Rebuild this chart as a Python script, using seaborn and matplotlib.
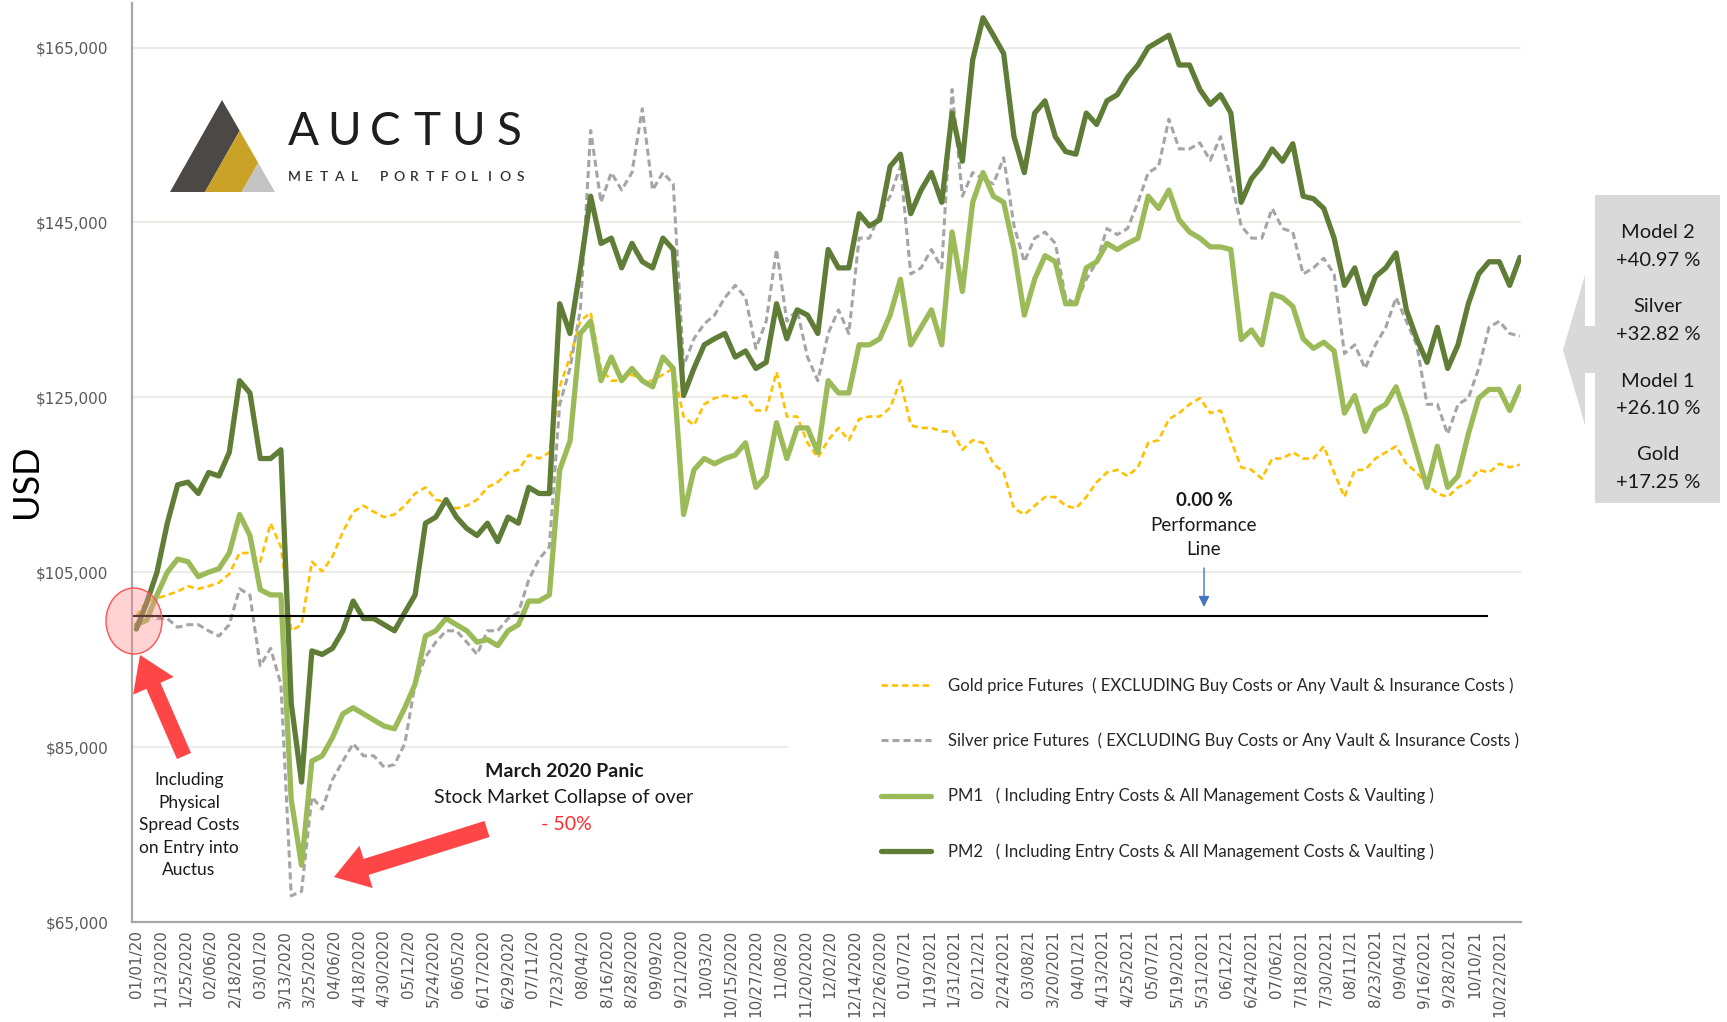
import numpy as np
import pandas as pd
import matplotlib
matplotlib.use("Agg")
import matplotlib.pyplot as plt
import seaborn as sns
from matplotlib.patches import Polygon, Rectangle, Ellipse
from matplotlib.lines import Line2D
import matplotlib.ticker as mticker

# ---------------- data (USD thousands, one sample every 5 days from 2020-01-01) -------------
start_date = "2020-01-01"
step_days = 5

gold_k = [
    100.0, 101.7, 102.0, 102.4, 102.8, 103.4, 103.1, 103.4, 103.8, 104.8,
    107.2, 107.2, 106.2, 110.6, 107.9, 98.3, 99.0, 106.2, 105.1, 106.8,
    109.6, 111.9, 112.6, 111.9, 111.3, 111.6, 112.6, 114.0, 114.7, 113.3,
    113.0, 112.3, 112.6, 113.3, 114.7, 115.3, 116.4, 116.7, 118.4, 118.0,
    118.7, 126.2, 129.6, 133.7, 134.7, 128.3, 126.9, 126.9, 127.6, 126.9,
    126.9, 127.6, 128.3, 122.8, 121.8, 124.2, 124.9, 125.2, 124.9, 125.2,
    123.5, 123.5, 127.9, 122.8, 122.8, 119.8, 118.1, 120.1, 121.5, 120.1,
    122.5, 122.8, 122.8, 123.8, 126.9, 121.8, 121.5, 121.5, 121.1, 121.1,
    119.0, 120.1, 119.8, 117.4, 116.4, 112.3, 111.6, 112.6, 113.6, 113.6,
    112.6, 112.3, 113.6, 115.3, 116.4, 116.7, 116.0, 117.0, 119.8, 120.1,
    122.5, 123.2, 124.2, 124.9, 123.2, 123.5, 120.1, 117.0, 116.7, 115.7,
    118.0, 118.0, 118.7, 118.0, 118.0, 119.4, 116.4, 113.6, 116.7, 116.7,
    118.0, 118.7, 119.4, 117.4, 116.4, 115.0, 114.0, 113.6, 114.7, 115.3,
    116.7, 116.4, 117.4, 117.0, 117.3]

silver_k = [
    100.0, 100.3, 99.7, 99.7, 98.7, 99.0, 99.0, 98.3, 97.7, 99.0,
    103.1, 102.4, 94.3, 96.3, 92.2, 68.0, 68.5, 79.3, 77.9, 81.3,
    83.4, 85.4, 84.0, 84.0, 82.7, 83.0, 85.4, 92.2, 95.3, 97.0,
    98.3, 98.3, 97.0, 95.6, 98.3, 98.3, 99.7, 100.4, 104.1, 106.5,
    107.9, 124.2, 128.3, 135.0, 155.5, 147.3, 150.7, 148.7, 150.7, 158.0,
    148.7, 150.7, 149.4, 128.6, 131.7, 133.4, 134.4, 136.4, 137.8, 136.4,
    130.6, 133.7, 141.9, 133.7, 135.0, 129.6, 126.9, 132.3, 135.0, 132.3,
    143.2, 143.2, 146.0, 148.0, 151.4, 139.1, 139.8, 141.9, 139.8, 160.2,
    148.0, 150.7, 150.0, 149.4, 152.4, 144.6, 140.5, 143.2, 143.9, 142.6,
    136.4, 135.7, 138.5, 140.5, 144.3, 143.6, 144.3, 147.3, 150.7, 151.4,
    156.8, 153.4, 153.4, 154.1, 152.1, 154.8, 150.0, 144.6, 143.2, 143.2,
    146.6, 144.3, 143.9, 139.1, 139.8, 140.9, 139.1, 130.0, 131.0, 128.3,
    131.0, 133.0, 136.4, 133.7, 131.0, 124.2, 124.2, 120.8, 124.2, 124.9,
    128.3, 133.0, 133.7, 132.3, 132.0]

pm1_k = [
    99.0, 99.5, 102.4, 105.0, 106.5, 106.2, 104.5, 105.0, 105.4, 107.2,
    111.6, 109.2, 103.0, 102.4, 102.4, 79.0, 71.5, 83.4, 84.0, 86.1,
    88.8, 89.5, 88.8, 88.1, 87.4, 87.1, 89.5, 92.2, 97.7, 98.3,
    99.7, 99.0, 98.3, 97.0, 97.3, 96.6, 98.3, 99.0, 101.7, 101.7,
    102.4, 116.7, 120.0, 132.3, 133.7, 126.9, 129.6, 126.9, 128.3, 126.9,
    126.2, 129.6, 128.3, 111.6, 116.7, 118.0, 117.4, 118.0, 118.4, 119.8,
    114.7, 116.0, 122.1, 118.0, 121.5, 121.5, 118.7, 126.9, 125.5, 125.5,
    131.0, 131.0, 131.7, 134.4, 138.5, 131.0, 133.0, 135.0, 131.0, 143.9,
    137.1, 147.3, 150.7, 148.0, 147.3, 141.9, 134.4, 138.5, 141.2, 140.5,
    135.7, 135.7, 139.8, 140.5, 142.6, 141.9, 142.6, 143.2, 148.0, 146.6,
    148.7, 145.3, 143.9, 143.2, 142.2, 142.2, 141.9, 131.6, 132.7, 131.0,
    136.8, 136.4, 135.4, 131.7, 130.6, 131.3, 130.3, 123.2, 125.2, 121.1,
    123.5, 124.2, 126.2, 122.8, 118.7, 114.7, 119.4, 114.7, 116.0, 120.8,
    124.9, 125.9, 125.9, 123.5, 126.2]

pm2_k = [
    98.5, 101.5, 105.0, 110.6, 115.0, 115.3, 114.0, 116.4, 116.0, 118.7,
    126.9, 125.5, 118.0, 118.0, 119.0, 90.0, 81.0, 96.0, 95.6, 96.3,
    98.3, 101.7, 99.7, 99.7, 99.0, 98.3, 100.4, 102.4, 110.6, 111.3,
    113.3, 111.3, 110.0, 109.2, 110.6, 108.5, 111.3, 110.6, 114.7, 114.0,
    114.0, 135.7, 132.3, 139.8, 148.0, 142.6, 143.2, 139.8, 142.6, 140.5,
    139.8, 143.2, 141.9, 125.2, 128.3, 131.0, 131.7, 132.3, 129.6, 130.3,
    128.3, 129.0, 135.7, 131.7, 135.0, 134.4, 132.3, 141.9, 139.8, 139.8,
    146.0, 144.6, 145.3, 151.4, 152.8, 146.0, 148.7, 150.7, 147.3, 157.5,
    152.0, 163.6, 168.4, 166.4, 164.3, 154.8, 150.7, 157.5, 158.9, 154.8,
    153.1, 152.8, 157.5, 156.2, 158.9, 159.6, 161.6, 163.0, 165.0, 165.7,
    166.4, 163.0, 163.0, 160.2, 158.5, 159.6, 157.5, 147.3, 150.0, 151.4,
    153.4, 152.0, 154.0, 148.0, 147.7, 146.6, 143.2, 137.8, 139.8, 135.7,
    138.8, 139.8, 141.5, 135.0, 131.7, 129.0, 133.0, 128.3, 131.0, 135.7,
    139.1, 140.5, 140.5, 137.8, 141.0]

baseline_usd = 100000

tick_labels = [
    "01/01/20", "1/13/2020", "1/25/2020", "02/06/20", "2/18/2020", "03/01/20",
    "3/13/2020", "3/25/2020", "04/06/20", "4/18/2020", "4/30/2020", "05/12/20",
    "5/24/2020", "06/05/20", "6/17/2020", "6/29/2020", "07/11/20", "7/23/2020",
    "08/04/20", "8/16/2020", "8/28/2020", "09/09/20", "9/21/2020", "10/03/20",
    "10/15/2020", "10/27/2020", "11/08/20", "11/20/2020", "12/02/20", "12/14/2020",
    "12/26/2020", "01/07/21", "1/19/2021", "1/31/2021", "02/12/21", "2/24/2021",
    "03/08/21", "3/20/2021", "04/01/21", "4/13/2021", "4/25/2021", "05/07/21",
    "5/19/2021", "5/31/2021", "06/12/21", "6/24/2021", "07/06/21", "7/18/2021",
    "7/30/2021", "08/11/21", "8/23/2021", "09/04/21", "9/16/2021", "9/28/2021",
    "10/10/21", "10/22/2021"]
tick_step_days = 12

y_ticks = [65000, 85000, 105000, 125000, 145000, 165000]

series_labels = [
    "Gold price Futures  ( EXCLUDING Buy Costs or Any Vault & Insurance Costs )",
    "Silver price Futures  ( EXCLUDING Buy Costs or Any Vault & Insurance Costs )",
    "PM1   ( Including Entry Costs & All Management Costs & Vaulting )",
    "PM2   ( Including Entry Costs & All Management Costs & Vaulting )",
]
box_names = ["Model 2", "Silver", "Model 1", "Gold"]
box_pcts = ["+40.97 %", "+32.82 %", "+26.10 %", "+17.25 %"]

# ---------------- style -------------
W, H = 1727, 1022
sns.set_style("white")
plt.rcParams["font.family"] = ["DejaVu Sans"]
CAL = ["Lato", "DejaVu Sans"]

c_gold = "#ffc000"
c_silver = "#a5a5a5"
c_pm1 = "#9bbb59"
c_pm2 = "#5f7d37"
tick_col = "#595959"

fig = plt.figure(figsize=(W / 100, H / 100), dpi=100)
ax = fig.add_axes([132 / W, 1 - 922 / H, (1521 - 132) / W, (922 - 3) / H])

t0 = pd.Timestamp(start_date)


def dates_for(vals):
    return pd.date_range(t0, periods=len(vals), freq=f"{step_days}D")


specs = [
    (gold_k, c_gold, 1.9, (0, (2.4, 1.5)), 3),
    (silver_k, c_silver, 2.2, (0, (2.3, 1.3)), 3),
    (pm1_k, c_pm1, 3.8, "-", 4),
    (pm2_k, c_pm2, 3.8, "-", 5),
]
for vals, col, lw, ls, z in specs:
    sns.lineplot(x=dates_for(vals), y=np.asarray(vals) * 1000, ax=ax, color=col,
                 linewidth=lw, linestyle=ls, legend=False, zorder=z,
                 solid_joinstyle="round", solid_capstyle="round")

# performance line
ax.hlines(baseline_usd, t0 - pd.Timedelta(days=1.5), t0 + pd.Timedelta(days=654.5),
          color="black", lw=1.5, zorder=6)

# axes
ax.set_xlim(t0 - pd.Timedelta(days=2.1), t0 + pd.Timedelta(days=670.5))
ax.set_ylim(65000, 170090)
ax.set_xticks(pd.date_range(t0, periods=len(tick_labels), freq=f"{tick_step_days}D"))
ax.set_xticklabels(tick_labels, rotation=90)
ax.set_xticks(pd.date_range(t0, periods=671, freq="D"), minor=True)
ax.set_yticks(y_ticks)
ax.yaxis.set_major_formatter(mticker.FuncFormatter(lambda v, p: f"${v:,.0f}"))
ax.set_xlabel("")
ax.set_ylabel("")
ax.yaxis.grid(True, color="#e9e9e2", lw=1.2)
ax.xaxis.grid(False)
ax.set_axisbelow(True)
for s in ["top", "right"]:
    ax.spines[s].set_visible(False)
for s in ["left", "bottom"]:
    ax.spines[s].set_color("#a6a6a6")
    ax.spines[s].set_linewidth(1.6)
ax.tick_params(axis="x", which="both", length=7, width=0.7, color="#a0a0a0",
               direction="inout", labelsize=11, labelcolor=tick_col, pad=2)
ax.tick_params(axis="y", which="major", length=5, width=1, color="#a6a6a6",
               direction="out", labelsize=11, labelcolor=tick_col, pad=12)

# white area behind legend (hides grid line)
ax.add_patch(Rectangle((788 / W, 1 - 905 / H), (1521 - 788) / W, (905 - 640) / H,
                       transform=fig.transFigure, facecolor="white", edgecolor="none",
                       zorder=1.5, clip_on=False))

# legend
handles = [Line2D([], [], color=c, lw=lw, linestyle=ls) for _, c, lw, ls, _ in specs]
leg = ax.legend(handles, series_labels, loc="upper left",
                bbox_to_anchor=(881 / W, 1 - 677 / H), bbox_transform=fig.transFigure,
                frameon=False, prop={"family": CAL, "size": 12}, handlelength=3.0,
                handletextpad=1.05, labelspacing=2.33, borderpad=0, borderaxespad=0)
for t in leg.get_texts():
    t.set_color("#262626")
leg.set_zorder(10)

# y label
fig.text(26 / W, 1 - 481 / H, "USD", rotation=90, ha="center", va="center",
         family=CAL, fontsize=26, color="black")


def fx(x):
    return x / W


def fy(y):
    return 1 - y / H


# annotations
fig.text(fx(1204), fy(500), "0.00 %", ha="center", va="center", family=CAL,
         fontsize=13.5, fontweight="bold", color="#1a1a1a")
fig.text(fx(1204), fy(525), "Performance", ha="center", va="center", family=CAL,
         fontsize=13.5, color="#1a1a1a")
fig.text(fx(1204), fy(549), "Line", ha="center", va="center", family=CAL,
         fontsize=13.5, color="#1a1a1a")
ax.annotate("", xy=(1204, H - 607), xytext=(1204, H - 568), xycoords="figure pixels",
            textcoords="figure pixels",
            arrowprops=dict(arrowstyle="-|>", color="#4472c4", lw=1.0,
                            mutation_scale=16, shrinkA=0, shrinkB=0))

fig.text(fx(564), fy(771), "March 2020 Panic", ha="center", va="center", family=CAL,
         fontsize=14, fontweight="bold", color="#1a1a1a")
fig.text(fx(564), fy(797), "Stock Market Collapse of over", ha="center", va="center",
         family=CAL, fontsize=14, color="#1a1a1a")
fig.text(fx(566), fy(824), "- 50%", ha="center", va="center", family=CAL,
         fontsize=14, color="#ff2a2a")

for i, line in enumerate(["Including", "Physical", "Spread Costs", "on Entry into", "Auctus"]):
    fig.text(fx(189), fy(780 + 22.5 * i), line, ha="center", va="center", family=CAL,
             fontsize=12.5, color="#1a1a1a")

# red arrows
red = "#ff4646"
ax.annotate("", xy=(140, H - 655), xytext=(184, H - 756), xycoords="figure pixels",
            textcoords="figure pixels",
            arrowprops=dict(arrowstyle="simple,head_length=1.1,head_width=1.45,tail_width=0.5",
                            mutation_scale=22, color=red, lw=0, shrinkA=0, shrinkB=0))
ax.annotate("", xy=(334, H - 877), xytext=(487, H - 829), xycoords="figure pixels",
            textcoords="figure pixels",
            arrowprops=dict(arrowstyle="simple,head_length=1.1,head_width=1.45,tail_width=0.55",
                            mutation_scale=22, color=red, lw=0, shrinkA=0, shrinkB=0))

# red ellipse around start
fig.add_artist(Ellipse((fx(134), fy(621)), 56 / W, 66 / H, transform=fig.transFigure,
                       facecolor=(1.0, 0.55, 0.55, 0.38), edgecolor="#ff5050", lw=1.0,
                       zorder=20))

# right call-out box
box_pts = [(1595, 195), (1720, 195), (1720, 503), (1595, 503), (1595, 373), (1585, 373),
           (1585, 425), (1563, 350), (1585, 275), (1585, 326), (1595, 326)]
fig.add_artist(Polygon([(fx(x), fy(y)) for x, y in box_pts], closed=True,
                       transform=fig.transFigure, facecolor="#d9d9d9", edgecolor="none",
                       zorder=1))
for i, (nm, pc) in enumerate(zip(box_names, box_pcts)):
    yc = 233 + 74 * i
    fig.text(fx(1658), fy(yc), nm, ha="center", va="center", family=CAL, fontsize=14.5,
             color="#1a1a1a", zorder=2)
    fig.text(fx(1658), fy(yc + 27), pc, ha="center", va="center", family=CAL,
             fontsize=14.5, color="#1a1a1a", zorder=2)

# logo
L, A, R = (170, 192), (222, 100), (275, 192)
B1, P1 = (205, 192), (239.7, 130.7)
B2, P2 = (241.7, 192), (258.2, 162.8)
for pts, col in [([L, A, P1, B1], "#4b4846"), ([B1, P1, P2, B2], "#c9a227"),
                 ([B2, P2, R], "#c4c4c4")]:
    fig.add_artist(Polygon([(fx(x), fy(y)) for x, y in pts], closed=True,
                           transform=fig.transFigure, facecolor=col, edgecolor="none",
                           zorder=8))
for i, ch in enumerate("AUCTUS"):
    fig.text(fx(303 + 41.2 * i), fy(145), ch, ha="center", va="baseline",
             family=CAL, fontsize=33, fontweight="normal", color="#1e1e1e", zorder=8)
for i, ch in enumerate("METAL PORTFOLIOS"):
    fig.text(fx(294 + 15.07 * i), fy(181), ch, ha="center", va="baseline",
             family=CAL, fontsize=10, fontweight="semibold", color="#333333", zorder=8)

fig.savefig("out.png", dpi=100)
